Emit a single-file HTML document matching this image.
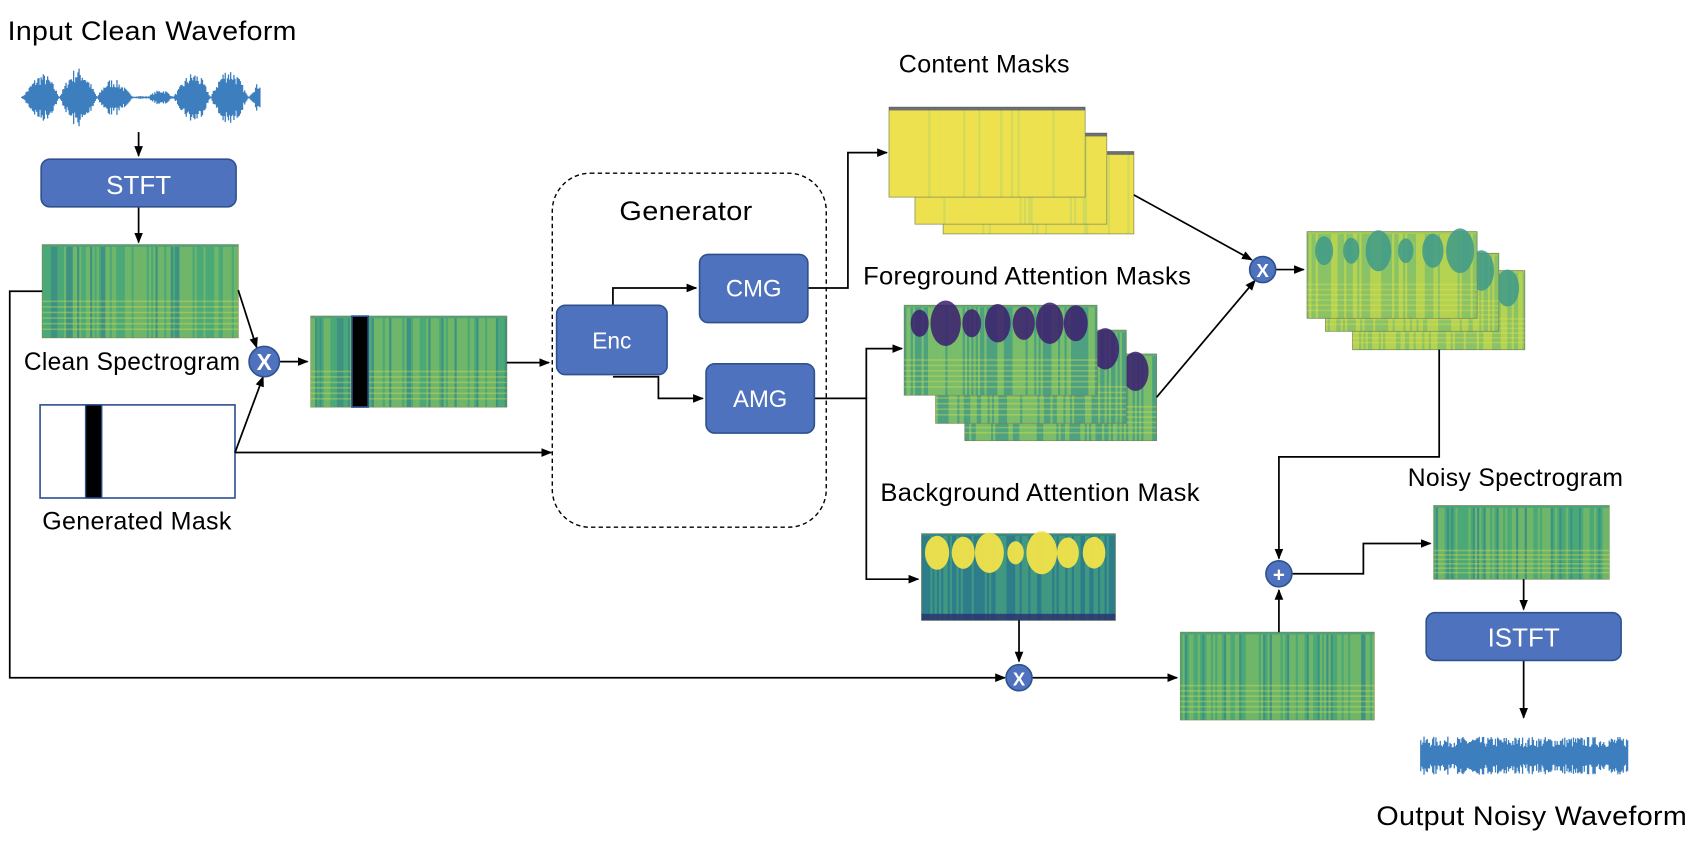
<!DOCTYPE html>
<html><head><meta charset="utf-8"><style>
html,body{margin:0;padding:0;background:#fff;}
svg{display:block}
text{font-family:"Liberation Sans",sans-serif;}
</style></head><body>
<svg id="s" width="1698" height="852" viewBox="0 0 1568 787" preserveAspectRatio="none" xmlns="http://www.w3.org/2000/svg">
<defs>
<marker id="a" markerWidth="10" markerHeight="10" refX="9" refY="5" orient="auto" markerUnits="userSpaceOnUse"><path d="M0,1 L10,5 L0,9 z" fill="#000"/></marker>
</defs>
<rect width="1568" height="787" fill="#fff"/>
<g id="tex"></g>
<g fill="none" stroke="#000" stroke-width="1.6">
<path d="M128,122 V144" marker-end="url(#a)"/>
<path d="M128,191 V224" marker-end="url(#a)"/>
<path d="M39,269 H9 V626 H928" marker-end="url(#a)"/>
<path d="M220,268 L237,321" marker-end="url(#a)"/>
<path d="M217,418 L243,348" marker-end="url(#a)"/>
<path d="M258,334 H284" marker-end="url(#a)"/>
<path d="M468,335 H507" marker-end="url(#a)"/>
<path d="M217,418 H509" marker-end="url(#a)"/>
<path d="M566,282 V266 H643" marker-end="url(#a)"/>
<path d="M566,348 H608 V368 H649" marker-end="url(#a)"/>
<path d="M746,266 H783 V141 H819" marker-end="url(#a)"/>
<path d="M752,368 H800 V535 H848" marker-end="url(#a)"/>
<path d="M800,368 V322 H833" marker-end="url(#a)"/>
<path d="M1047,180 L1156,240" marker-end="url(#a)"/>
<path d="M1068,367 L1159,259" marker-end="url(#a)"/>
<path d="M1178,249 H1204" marker-end="url(#a)"/>
<path d="M1329,323 V422 H1181 V516" marker-end="url(#a)"/>
<path d="M1181,584 V545" marker-end="url(#a)"/>
<path d="M1193,530 H1259 V502 H1321" marker-end="url(#a)"/>
<path d="M941,573 V611" marker-end="url(#a)"/>
<path d="M953,626 H1087" marker-end="url(#a)"/>
<path d="M1407,535 V563" marker-end="url(#a)"/>
<path d="M1407,610 V663" marker-end="url(#a)"/>
</g>
<rect x="510" y="160" width="253" height="327" rx="35" fill="none" stroke="#000" stroke-width="1.3" stroke-dasharray="4,3"/>
<g fill="#4f72be" stroke="#2f528f" stroke-width="1.5">
<rect x="38" y="147" width="180" height="44" rx="8"/>
<rect x="514" y="282" width="102" height="64" rx="8"/>
<rect x="646" y="235" width="100" height="63" rx="8"/>
<rect x="652" y="336" width="100" height="64" rx="8"/>
<rect x="1317" y="566" width="180" height="44" rx="8"/>
<circle cx="244" cy="334" r="14"/>
<circle cx="1166" cy="249" r="12"/>
<circle cx="1181" cy="530" r="12"/>
<circle cx="941" cy="626" r="12"/>
</g>
<g fill="#fff" text-anchor="middle" font-size="24">
<text x="128" y="179">STFT</text>
<text x="565" y="322" font-size="21">Enc</text>
<text x="696" y="274" font-size="22">CMG</text>
<text x="702" y="376" font-size="22">AMG</text>
<text x="1407" y="597">ISTFT</text>
<text x="244" y="342" font-size="21" font-weight="bold">X</text>
<text x="1166" y="256" font-size="17" font-weight="bold">X</text>
<text x="1181" y="537" font-size="19" font-weight="bold">+</text>
<text x="941" y="633" font-size="17" font-weight="bold">X</text>
</g>
<g fill="#000" font-size="23" letter-spacing="0.3">
<text x="7" y="37" font-size="25" textLength="267" lengthAdjust="spacingAndGlyphs">Input Clean Waveform</text>
<text x="22" y="342" textLength="200" lengthAdjust="spacingAndGlyphs">Clean Spectrogram</text>
<text x="39" y="489" textLength="175" lengthAdjust="spacingAndGlyphs">Generated Mask</text>
<text x="572" y="203" font-size="25" textLength="123" lengthAdjust="spacingAndGlyphs">Generator</text>
<text x="830" y="67" textLength="158" lengthAdjust="spacingAndGlyphs">Content Masks</text>
<text x="797" y="263" textLength="303" lengthAdjust="spacingAndGlyphs">Foreground Attention Masks</text>
<text x="813" y="463" textLength="295" lengthAdjust="spacingAndGlyphs">Background Attention Mask</text>
<text x="1300" y="449" textLength="199" lengthAdjust="spacingAndGlyphs">Noisy Spectrogram</text>
<text x="1271" y="762" font-size="25" textLength="287" lengthAdjust="spacingAndGlyphs">Output Noisy Waveform</text>
</g>
</svg>
<script>
var NS="http://www.w3.org/2000/svg",G=document.getElementById("tex");
var seed=7;function r(){seed=(seed*16807)%2147483647;return (seed-1)/2147483646;}
function el(t,a){var e=document.createElementNS(NS,t);for(var k in a)e.setAttribute(k,a[k]);G.appendChild(e);return e;}
function spec(x,y,w,h,type){
 var base={clean:"#48a57e",fg:"#5bb17a",bg:"#2f8a8c",ct:"#ede152",res:"#a6cd58"}[type];
 el("rect",{x:x,y:y,width:w,height:h,fill:base,stroke:"#7a8a5a","stroke-width":0.8});
 var n=Math.floor(w/2);
 for(var i=0;i<n;i++){var bx=x+i*w/n,v=r(),c,o;
  if(type=="clean"){c=v>0.55?"#b9d645":(v<0.2?"#2a6f8e":"#53b26c");o=0.35;}
  else if(type=="fg"){c=v>0.5?"#c4dc48":"#2d7f8e";o=0.3;}
  else if(type=="bg"){c=v>0.5?"#69b86a":"#2a5f8c";o=0.3;}
  else if(type=="ct"){c=v>0.9?"#9fcf6a":"#f2e34a";o=0.35;}
  else {c=v>0.5?"#d6e24a":"#4aa98a";o=0.3;}
  el("rect",{x:bx,y:y+2,width:w/n,height:h-2,fill:c,opacity:o});}
 if(type=="clean"||type=="fg"||type=="res"){for(var j=0;j<6;j++)el("rect",{x:x,y:y+h*0.6+j*h*0.06,width:w,height:1.5,fill:"#e8e24a",opacity:0.35});}
 if(type=="fg"){for(var k=0;k<7;k++){var cx=x+w*(0.08+k*0.135),rr=6+r()*10;el("ellipse",{cx:cx,cy:y+h*0.2,rx:rr,ry:rr*1.5,fill:"#3b1d6e",opacity:0.85});}}
 if(type=="bg"){for(var k=0;k<7;k++){var cx=x+w*(0.08+k*0.135),rr=6+r()*9;el("ellipse",{cx:cx,cy:y+h*0.22,rx:rr,ry:rr*1.4,fill:"#f2e34a",opacity:0.95});}el("rect",{x:x,y:y+h-6,width:w,height:6,fill:"#2a2f6e",opacity:0.8});}
 if(type=="res"){for(var k=0;k<6;k++){var cx=x+w*(0.1+k*0.16),rr=6+r()*8;el("ellipse",{cx:cx,cy:y+h*0.22,rx:rr,ry:rr*1.6,fill:"#3e9a8a",opacity:0.85});}}
 if(type=="ct"){el("rect",{x:x,y:y,width:w,height:3,fill:"#3b3f7e",opacity:0.7});}
}
function wave(x0,x1,cy,amp,noisy){var d="";for(var x=x0;x<=x1;x+=1){var env;
 if(noisy)env=0.35+0.45*r();else{var s=Math.sin((x-x0)*0.09)*Math.sin((x-x0)*0.023+0.5);env=Math.max(0.04,Math.abs(s))*(0.5+0.5*r());}
 var a=amp*env;d+="M"+x+","+(cy-a)+"V"+(cy+a);}
 el("path",{d:d+"M"+x0+","+cy+"H"+x1,stroke:"#3d7ebf","stroke-width":1.2,fill:"none"});}
wave(20,240,90,28,false);
wave(1312,1503,698,22,true);
spec(39,226,181,86,"clean");
spec(287,292,181,84,"clean");
el("rect",{x:325,y:292,width:15,height:84,fill:"#000",stroke:"#2f528f","stroke-width":1.5});
el("rect",{x:37,y:374,width:180,height:86,fill:"#fff",stroke:"#2f528f","stroke-width":1.5});
el("rect",{x:79,y:374,width:15,height:86,fill:"#000",stroke:"#2f528f","stroke-width":1.2});
spec(871,140,176,76,"ct");spec(845,123,177,84,"ct");spec(821,99,181,83,"ct");
spec(891,327,177,80,"fg");spec(864,305,176,86,"fg");spec(835,282,178,83,"fg");
spec(851,493,179,80,"bg");
spec(1249,250,159,73,"res");spec(1224,234,160,72,"res");spec(1207,214,157,80,"res");
spec(1324,467,162,68,"clean");
spec(1090,584,179,81,"clean");
</script>
</body></html>
